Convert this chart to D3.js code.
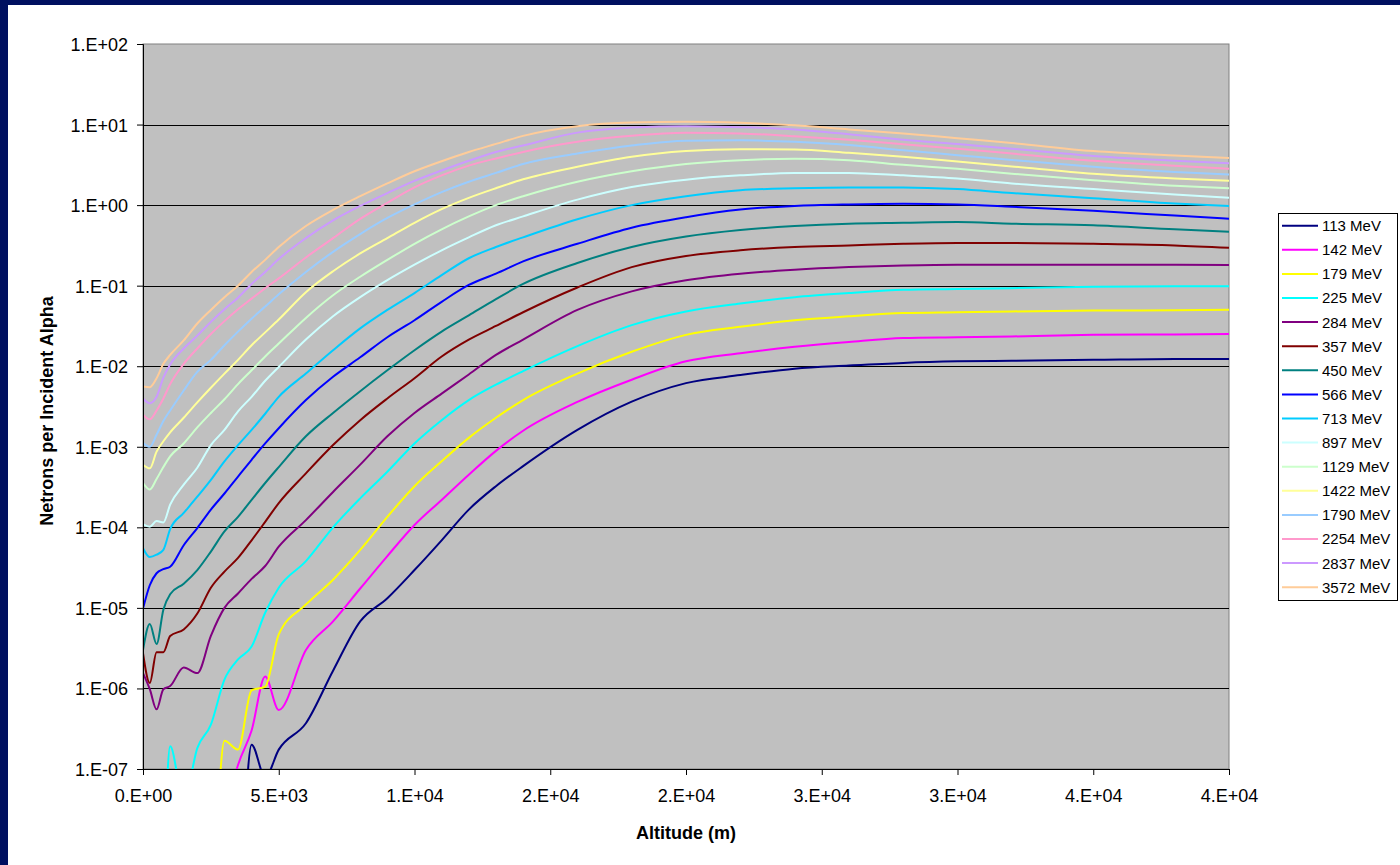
<!DOCTYPE html>
<html>
<head>
<meta charset="utf-8">
<script src="https://cdn.jsdelivr.net/npm/d3@7"></script>
<style>
  body { margin: 0; background: #fff; }
  text { font-family: 'Liberation Sans', Arial, sans-serif; }
</style>
</head>
<body>
<div id="chart"></div>
<script>
// altitude samples (m) shared by every series
var altitudes = [0, 250, 500, 750, 1000, 1500, 2000, 2500, 3000, 3500, 4000, 4500, 5000,
  6000, 7000, 8000, 9000, 10000, 11000, 12000, 13000, 14000, 16000, 18000, 20000,
  22000, 24000, 26000, 28000, 30000, 32000, 35000, 38000, 40000];

var seriesNames = ['113 MeV', '142 MeV', '179 MeV', '225 MeV', '284 MeV', '357 MeV', '450 MeV', '566 MeV',
  '713 MeV', '897 MeV', '1129 MeV', '1422 MeV', '1790 MeV', '2254 MeV', '2837 MeV', '3572 MeV'];

// neutrons per incident alpha (values under 1e-7 are off the plot)
var n113 = [3e-9, 3e-9, 3e-9, 3e-9, 3e-9, 3e-9, 3e-9, 3e-9, 3e-9, 3e-9, 2.0e-7, 7.9e-8, 1.74e-7,
  3.7e-7, 1.66e-6, 6.8e-6, 1.32e-5, 2.95e-5, 6.9e-5, 1.66e-4, 3.24e-4, 5.75e-4, 1.62e-3, 3.63e-3, 6.17e-3,
  7.76e-3, 9.33e-3, 1.02e-2, 1.10e-2, 1.15e-2, 1.17e-2, 1.20e-2, 1.23e-2, 1.23e-2];
var n142 = [3e-9, 3e-9, 3e-9, 3e-9, 3e-9, 3e-9, 3e-9, 3e-9, 2.5e-8, 1.12e-7, 3.0e-7, 1.41e-6, 5.4e-7,
  3.0e-6, 6.8e-6, 1.74e-5, 4.4e-5, 1.07e-4, 2.19e-4, 4.5e-4, 8.9e-4, 1.58e-3, 3.6e-3, 6.8e-3, 1.15e-2,
  1.45e-2, 1.74e-2, 2.0e-2, 2.24e-2, 2.29e-2, 2.34e-2, 2.45e-2, 2.48e-2, 2.51e-2];
var n179 = [3e-9, 3e-9, 3e-9, 3e-9, 3e-9, 3e-9, 3e-9, 3e-9, 2.24e-7, 1.74e-7, 9.5e-7, 1.05e-6, 4.7e-6,
  1.10e-5, 2.24e-5, 5.25e-5, 1.35e-4, 3.24e-4, 6.6e-4, 1.29e-3, 2.29e-3, 3.8e-3, 8.1e-3, 1.51e-2, 2.45e-2,
  3.09e-2, 3.72e-2, 4.17e-2, 4.57e-2, 4.68e-2, 4.79e-2, 4.90e-2, 4.95e-2, 5.01e-2];
var n225 = [3e-9, 3e-9, 3e-9, 1e-8, 1.91e-7, 4.0e-8, 1.82e-7, 3.55e-7, 1.29e-6, 2.29e-6, 3.31e-6, 8.7e-6, 1.78e-5,
  3.8e-5, 1.0e-4, 2.29e-4, 4.9e-4, 1.10e-3, 2.14e-3, 3.80e-3, 5.9e-3, 8.7e-3, 1.78e-2, 3.24e-2, 4.79e-2,
  6.0e-2, 7.2e-2, 8.1e-2, 8.9e-2, 9.1e-2, 9.3e-2, 9.7e-2, 9.8e-2, 9.8e-2];
var n284 = [1.55e-6, 9.8e-7, 5.5e-7, 9.8e-7, 1.07e-6, 1.82e-6, 1.55e-6, 4.5e-6, 1.0e-5, 1.51e-5, 2.29e-5, 3.31e-5, 5.75e-5,
  1.23e-4, 2.75e-4, 6.0e-4, 1.35e-3, 2.63e-3, 4.57e-3, 7.9e-3, 1.38e-2, 2.14e-2, 5.0e-2, 8.5e-2, 0.117,
  0.141, 0.158, 0.170, 0.178, 0.182, 0.182, 0.182, 0.182, 0.180];
var n357 = [2.75e-6, 1.17e-6, 2.82e-6, 2.82e-6, 4.47e-6, 5.4e-6, 8.5e-6, 1.78e-5, 2.82e-5, 4.17e-5, 6.9e-5, 1.17e-4, 2.0e-4,
  4.68e-4, 1.05e-3, 2.14e-3, 3.98e-3, 7.1e-3, 1.32e-2, 2.14e-2, 3.16e-2, 4.68e-2, 9.5e-2, 0.170, 0.234,
  0.275, 0.302, 0.316, 0.331, 0.339, 0.339, 0.331, 0.316, 0.295];
var n450 = [3.0e-6, 6.3e-6, 3.55e-6, 9.5e-6, 1.48e-5, 2.0e-5, 2.95e-5, 5.0e-5, 8.9e-5, 1.35e-4, 2.19e-4, 3.55e-4, 5.6e-4,
  1.35e-3, 2.63e-3, 4.9e-3, 8.9e-3, 1.58e-2, 2.69e-2, 4.27e-2, 6.8e-2, 0.105, 0.191, 0.302, 0.407,
  0.490, 0.550, 0.589, 0.603, 0.617, 0.589, 0.562, 0.501, 0.468];
var n566 = [9.8e-6, 1.91e-5, 2.69e-5, 3.02e-5, 3.24e-5, 6.0e-5, 9.8e-5, 1.66e-4, 2.63e-4, 4.27e-4, 6.9e-4, 1.10e-3, 1.70e-3,
  3.8e-3, 7.4e-3, 1.29e-2, 2.29e-2, 3.72e-2, 6.3e-2, 0.102, 0.141, 0.200, 0.331, 0.525, 0.708,
  0.881, 0.977, 1.02, 1.04, 1.02, 0.955, 0.851, 0.741, 0.676];
var n713 = [5.5e-5, 4.27e-5, 4.57e-5, 5.25e-5, 9.5e-5, 1.51e-4, 2.4e-4, 3.89e-4, 6.6e-4, 1.05e-3, 1.62e-3, 2.57e-3, 4.17e-3,
  8.1e-3, 1.58e-2, 2.95e-2, 5.0e-2, 8.1e-2, 0.135, 0.219, 0.302, 0.398, 0.668, 1.00, 1.29,
  1.53, 1.62, 1.66, 1.66, 1.58, 1.41, 1.22, 1.05, 0.977];
var n897 = [1.10e-4, 1.02e-4, 1.20e-4, 1.15e-4, 1.91e-4, 3.39e-4, 5.5e-4, 1.05e-3, 1.62e-3, 2.75e-3, 4.17e-3, 6.6e-3, 9.8e-3,
  2.14e-2, 4.17e-2, 7.2e-2, 0.117, 0.182, 0.275, 0.398, 0.562, 0.724, 1.17, 1.68, 2.07,
  2.34, 2.51, 2.51, 2.34, 2.14, 1.86, 1.58, 1.35, 1.23];
var n1129 = [3.55e-4, 2.95e-4, 3.98e-4, 5.6e-4, 7.6e-4, 1.10e-3, 1.74e-3, 2.63e-3, 3.89e-3, 6.0e-3, 8.9e-3, 1.32e-2, 1.91e-2,
  3.98e-2, 7.6e-2, 0.129, 0.209, 0.331, 0.501, 0.724, 1.00, 1.29, 1.95, 2.63, 3.24,
  3.61, 3.75, 3.61, 3.16, 2.82, 2.45, 2.04, 1.74, 1.62];
var n1422 = [6.0e-4, 5.4e-4, 8.7e-4, 1.17e-3, 1.51e-3, 2.29e-3, 3.55e-3, 5.4e-3, 8.1e-3, 1.20e-2, 1.82e-2, 2.63e-2, 3.8e-2,
  8.3e-2, 0.151, 0.251, 0.389, 0.603, 0.891, 1.23, 1.62, 2.09, 2.99, 3.98, 4.68,
  4.94, 4.90, 4.47, 3.98, 3.47, 3.02, 2.45, 2.14, 2.00];
var n1790 = [1.12e-3, 1.00e-3, 1.41e-3, 2.09e-3, 2.82e-3, 5.0e-3, 8.5e-3, 1.20e-2, 1.82e-2, 2.69e-2, 3.89e-2, 5.5e-2, 7.8e-2,
  0.148, 0.263, 0.437, 0.692, 1.02, 1.45, 1.95, 2.51, 3.24, 4.37, 5.50, 6.31,
  6.38, 6.10, 5.56, 4.79, 4.17, 3.63, 2.99, 2.57, 2.40];
var n2254 = [2.51e-3, 2.19e-3, 2.82e-3, 3.98e-3, 6.0e-3, 1.07e-2, 1.66e-2, 2.51e-2, 3.63e-2, 5.1e-2, 6.9e-2, 9.3e-2, 0.123,
  0.224, 0.389, 0.676, 1.07, 1.66, 2.34, 3.09, 3.80, 4.57, 6.10, 7.24, 7.89,
  7.76, 7.16, 6.46, 5.70, 5.01, 4.37, 3.55, 3.09, 2.82];
var n2837 = [3.98e-3, 3.47e-3, 4.17e-3, 7.2e-3, 1.05e-2, 1.66e-2, 2.40e-2, 3.55e-2, 5.1e-2, 7.1e-2, 0.105, 0.148, 0.214,
  0.389, 0.646, 0.977, 1.41, 2.00, 2.69, 3.55, 4.57, 5.50, 7.94, 9.18, 9.55,
  9.27, 8.71, 7.59, 6.46, 5.75, 5.01, 4.07, 3.55, 3.31];
var n3572 = [5.6e-3, 5.5e-3, 7.1e-3, 1.07e-2, 1.38e-2, 2.09e-2, 3.39e-2, 5.0e-2, 7.2e-2, 0.100, 0.148, 0.209, 0.302,
  0.550, 0.871, 1.29, 1.86, 2.63, 3.51, 4.57, 5.75, 7.24, 9.55, 10.6, 10.8,
  10.5, 9.77, 8.71, 7.76, 6.76, 5.89, 4.68, 4.12, 3.85];

var seriesValues = [n113, n142, n179, n225, n284, n357, n450, n566, n713, n897, n1129, n1422, n1790, n2254, n2837, n3572];

var seriesColors = ['#000080', '#FF00FF', '#FFFF00', '#00FFFF', '#800080', '#800000', '#008080', '#0000FF',
  '#00CCFF', '#CCFFFF', '#CCFFCC', '#FFFF99', '#99CCFF', '#FF99CC', '#CC99FF', '#FFCC99'];

var xTickValues = [0, 5000, 10000, 15000, 20000, 25000, 30000, 35000, 40000];
var xTickLabels = ['0.E+00', '5.E+03', '1.E+04', '2.E+04', '2.E+04', '3.E+04', '3.E+04', '4.E+04', '4.E+04'];
var yTickValues = [1e-7, 1e-6, 1e-5, 1e-4, 1e-3, 1e-2, 1e-1, 1e0, 1e1, 1e2];
var yTickLabels = ['1.E-07', '1.E-06', '1.E-05', '1.E-04', '1.E-03', '1.E-02', '1.E-01', '1.E+00', '1.E+01', '1.E+02'];

var width = 1400, height = 865;
var plot = { left: 143, top: 44, right: 1229, bottom: 769 };

var svg = d3.select('#chart')
  .append('svg')
  .attr('width', width)
  .attr('height', height);

// navy frame and white chart area
svg.append('rect').attr('width', width).attr('height', height).attr('fill', '#001060');
svg.append('rect').attr('x', 8).attr('y', 5).attr('width', width - 8).attr('height', height - 5).attr('fill', '#fff');

var x = d3.scaleLinear().domain([0, 40000]).range([plot.left, plot.right]);
var y = d3.scaleLog().domain([1e-7, 1e2]).range([plot.bottom, plot.top]);

// plot background
svg.append('rect')
  .attr('x', plot.left).attr('y', plot.top)
  .attr('width', plot.right - plot.left).attr('height', plot.bottom - plot.top)
  .attr('fill', '#C0C0C0')
  .attr('stroke', '#808080')
  .attr('stroke-width', 1);

// horizontal gridlines at each decade
svg.append('g')
  .selectAll('line')
  .data(yTickValues.slice(1, -1))
  .enter().append('line')
  .attr('x1', plot.left).attr('x2', plot.right)
  .attr('y1', d => Math.round(y(d)) + 0.5).attr('y2', d => Math.round(y(d)) + 0.5)
  .attr('stroke', '#000').attr('stroke-width', 1);

svg.append('clipPath').attr('id', 'plotClip')
  .append('rect')
  .attr('x', plot.left).attr('y', plot.top)
  .attr('width', plot.right - plot.left).attr('height', plot.bottom - plot.top);

var line = d3.line()
  .x((d, i) => x(altitudes[i]))
  .y(d => y(d))
  .curve(d3.curveMonotoneX);

svg.append('g')
  .attr('clip-path', 'url(#plotClip)')
  .selectAll('path')
  .data(seriesValues)
  .enter().append('path')
  .attr('d', d => line(d))
  .attr('fill', 'none')
  .attr('stroke', (d, i) => seriesColors[i])
  .attr('stroke-width', 2)
  .attr('stroke-linejoin', 'round');

// y axis
var yAxis = d3.axisLeft(y)
  .tickValues(yTickValues)
  .tickFormat((d, i) => yTickLabels[i])
  .tickSizeOuter(0)
  .tickSize(6)
  .tickPadding(9);

var gy = svg.append('g')
  .attr('transform', 'translate(' + plot.left + ',0)')
  .call(yAxis);
gy.selectAll('text').style('font-size', '18px').attr('fill', '#000').attr('dy', '0.36em');
gy.selectAll('line, path').attr('stroke', '#000');

// x axis
var xAxis = d3.axisBottom(x)
  .tickValues(xTickValues)
  .tickFormat((d, i) => xTickLabels[i])
  .tickSizeOuter(0)
  .tickSize(6)
  .tickPadding(14);

var gx = svg.append('g')
  .attr('transform', 'translate(0,' + plot.bottom + ')')
  .call(xAxis);
gx.selectAll('text').style('font-size', '18px').attr('fill', '#000');
gx.selectAll('line, path').attr('stroke', '#000');

// axis titles
svg.append('text')
  .attr('x', (plot.left + plot.right) / 2)
  .attr('y', 839)
  .attr('text-anchor', 'middle')
  .style('font-size', '18px')
  .style('font-weight', 'bold')
  .text('Altitude (m)');

svg.append('text')
  .attr('transform', 'translate(53,411) rotate(-90)')
  .attr('text-anchor', 'middle')
  .style('font-size', '18px')
  .style('font-weight', 'bold')
  .text('Netrons per Incident Alpha');

// legend
var legend = svg.append('g');
legend.append('rect')
  .attr('x', 1278.5).attr('y', 213.5)
  .attr('width', 119).attr('height', 387)
  .attr('fill', '#fff')
  .attr('stroke', '#000')
  .attr('stroke-width', 1);

var rows = legend.selectAll('g.row')
  .data(seriesNames)
  .enter().append('g')
  .attr('class', 'row')
  .attr('transform', (d, i) => 'translate(0,' + (225.7 + i * 24.1) + ')');

rows.append('line')
  .attr('x1', 1282).attr('x2', 1318)
  .attr('y1', 0).attr('y2', 0)
  .attr('stroke', (d, i) => seriesColors[i])
  .attr('stroke-width', 2);

rows.append('text')
  .attr('x', 1322)
  .attr('y', 5.4)
  .style('font-size', '15px')
  .attr('fill', '#000')
  .text(d => d);
</script>
</body>
</html>
